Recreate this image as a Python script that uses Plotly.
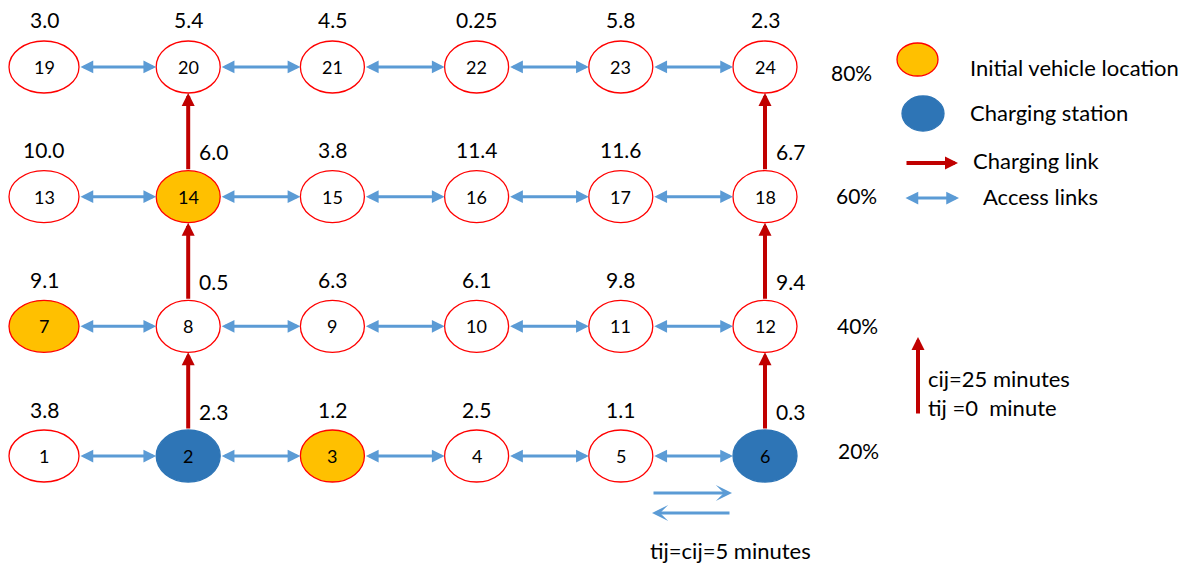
import plotly.graph_objects as go

# ---------------- data ----------------
node_ids = list(range(1, 25))
n_cols = 6
n_rows = 4
node_values = [3.8, 2.3, 1.2, 2.5, 1.1, 0.3,
               9.1, 0.5, 6.3, 6.1, 9.8, 9.4,
               10.0, 6.0, 3.8, 11.4, 11.6, 6.7,
               3.0, 5.4, 4.5, 0.25, 5.8, 2.3]
initial_vehicle_nodes = [3, 7, 14]
charging_station_nodes = [2, 6]
charging_links = [(2, 8), (8, 14), (14, 20), (6, 12), (12, 18), (18, 24)]
row_soc_labels = ["20%", "40%", "60%", "80%"]
legend_labels = ["Initial vehicle location", "Charging station", "Charging link", "Access links"]
charging_note = ["cij=25 minutes", "tij =0\u00a0 minute"]
access_note = "tij=cij=5 minutes"

# ---------------- styles ----------------
W, H = 1185, 567
FONT = "Lato"
RED = "#FF0000"
DARKRED = "#C00000"
BLUE_LINK = "#5B9BD5"
BLUE_NODE = "#2E75B6"
YELLOW = "#FFC000"
VAL_SIZE = 21
NODE_SIZE = 18
TXT_SIZE = 22
PCT_SIZE = 21

# pixel -> data mapping (col 0 at 44px, spacing 144.2px; row 0 at 456px, spacing 129.67px)
PX_X = 144.2
PX_Y = 129.67
x_range = [-44 / PX_X, (W - 44) / PX_X]
y_range = [(456 - H) / PX_Y, 456 / PX_Y]

def hw(col):
    return (35 if col == 0 else 32) / PX_X
HH = 26 / PX_Y

def pos(n):
    i = n - 1
    return i % n_cols, i // n_cols

def fmt(v):
    s = f"{v:.2f}".rstrip("0")
    return s + "0" if s.endswith(".") else s

def px(xp):
    return xp / W
def py(yp):
    return 1 - yp / H

def paper_arrow(x_tail, y_tail, x_head, y_head, **kw):
    return dict(x=px(x_head), y=py(y_head), ax=x_tail - x_head, ay=y_tail - y_head,
                xref="paper", yref="paper", axref="pixel", ayref="pixel",
                text="", showarrow=True, standoff=0, startstandoff=0, **kw)

def paper_text(xx, yy, text, size, xanchor="center"):
    return dict(x=px(xx), y=py(yy), xref="paper", yref="paper", text=text,
                xanchor=xanchor, yanchor="middle", showarrow=False,
                font=dict(family=FONT, size=size, color="black"))

fig = go.Figure()
shapes = []
annotations = []

ACCESS = dict(arrowside="end+start", arrowhead=2, startarrowhead=2, arrowsize=0.85,
              startarrowsize=0.85, arrowwidth=3, arrowcolor=BLUE_LINK)
CHARGE = dict(arrowhead=2, arrowsize=0.65, arrowwidth=4, arrowcolor=DARKRED)

# access links (horizontal, double-headed)
for r in range(n_rows):
    for c in range(n_cols - 1):
        annotations.append(dict(
            x=c + 1 - hw(c + 1), y=r, ax=c + hw(c), ay=r,
            xref="x", yref="y", axref="x", ayref="y",
            text="", showarrow=True, standoff=0, startstandoff=0, **ACCESS))

# charging links (vertical, red)
for a, b in charging_links:
    ca, ra = pos(a)
    cb, rb = pos(b)
    annotations.append(dict(
        x=cb, y=rb - HH, ax=ca, ay=ra + HH,
        xref="x", yref="y", axref="x", ayref="y",
        text="", showarrow=True, standoff=0, **CHARGE))

# nodes
charging_out = {a for a, b in charging_links}
for n, v in zip(node_ids, node_values):
    c, r = pos(n)
    if n in charging_station_nodes:
        fill, line = BLUE_NODE, BLUE_NODE
    elif n in initial_vehicle_nodes:
        fill, line = YELLOW, RED
    else:
        fill, line = "white", RED
    shapes.append(dict(type="circle", xref="x", yref="y",
                       x0=c - hw(c), x1=c + hw(c), y0=r - HH, y1=r + HH,
                       fillcolor=fill, line=dict(color=line, width=1.3), layer="above"))
    annotations.append(dict(x=c, y=r, xref="x", yref="y", text=str(n), showarrow=False,
                            xanchor="center", yanchor="middle",
                            font=dict(family=FONT, size=NODE_SIZE, color="black")))
    if n in charging_out:
        annotations.append(dict(x=c, y=r, xref="x", yref="y", text=fmt(v), showarrow=False,
                                xanchor="left", yanchor="middle", xshift=9, yshift=45,
                                font=dict(family=FONT, size=VAL_SIZE, color="black")))
    else:
        annotations.append(dict(x=c, y=r, xref="x", yref="y", text=fmt(v), showarrow=False,
                                xanchor="center", yanchor="middle", yshift=47,
                                font=dict(family=FONT, size=VAL_SIZE, color="black")))

# SOC row labels
soc_y = [450, 325, 195, 72]
soc_x = [858, 857, 856, 852]
for lab, xx, yy in zip(row_soc_labels, soc_x, soc_y):
    annotations.append(paper_text(xx, yy, lab, PCT_SIZE))

# legend
shapes.append(dict(type="circle", xref="paper", yref="paper",
                   x0=px(897), x1=px(938), y0=py(76), y1=py(43),
                   fillcolor=YELLOW, line=dict(color=RED, width=1.3)))
shapes.append(dict(type="circle", xref="paper", yref="paper",
                   x0=px(902), x1=px(944), y0=py(131), y1=py(96),
                   fillcolor=BLUE_NODE, line=dict(color=BLUE_NODE, width=1.3)))
legend_pos = [(968, 67), (968, 112), (971, 160), (981, 197)]
for lab, (xx, yy) in zip(legend_labels, legend_pos):
    annotations.append(paper_text(xx, yy, lab, TXT_SIZE, xanchor="left"))
annotations.append(paper_arrow(905, 163, 958, 163, **CHARGE))
annotations.append(paper_arrow(904, 198, 959, 198, **ACCESS))

# charging link note
annotations.append(paper_arrow(918, 415, 918, 337, **CHARGE))
for t, yy in zip(charging_note, [378, 407]):
    annotations.append(paper_text(926, yy, t, TXT_SIZE, xanchor="left"))

# access link note
annotations.append(paper_arrow(652, 493, 732, 493, arrowhead=3, arrowsize=0.9,
                               arrowwidth=3, arrowcolor=BLUE_LINK))
annotations.append(paper_arrow(731, 513, 652, 513, arrowhead=3, arrowsize=0.9,
                               arrowwidth=3, arrowcolor=BLUE_LINK))
annotations.append(paper_text(730, 550, access_note, TXT_SIZE))

fig.update_layout(
    width=W, height=H, margin=dict(l=0, r=0, t=0, b=0),
    paper_bgcolor="white", plot_bgcolor="white",
    xaxis=dict(range=x_range, visible=False, fixedrange=True),
    yaxis=dict(range=y_range, visible=False, fixedrange=True),
    shapes=shapes, annotations=annotations, showlegend=False,
)
fig.write_html("out.html", config={"displayModeBar": False},
               post_script="document.body.style.margin='0';")
